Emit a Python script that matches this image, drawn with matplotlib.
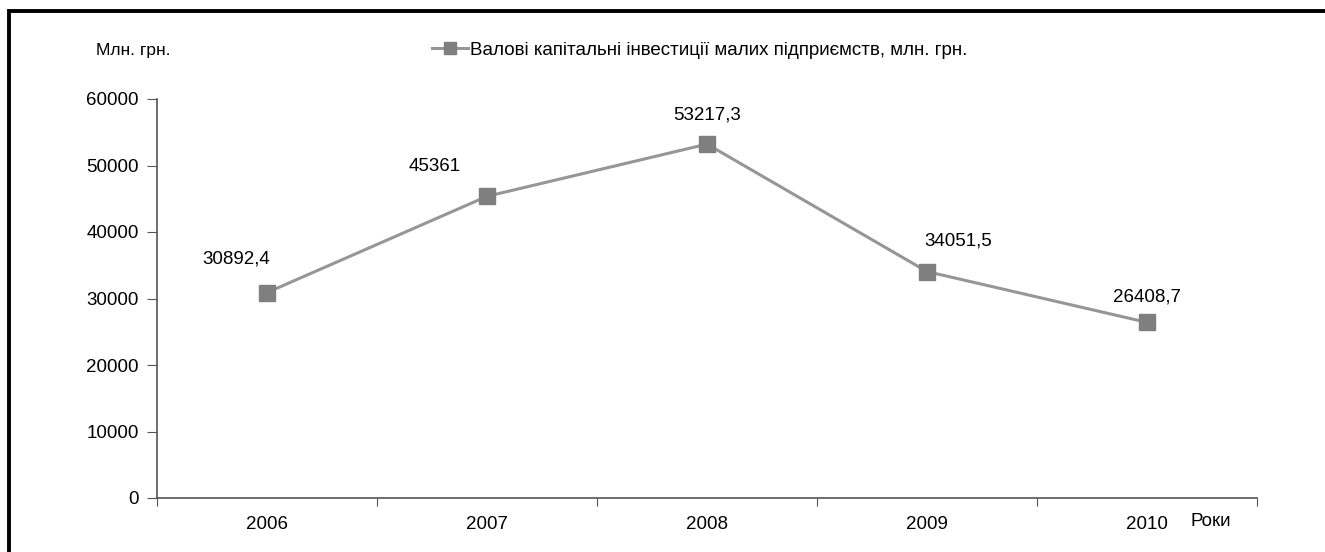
import matplotlib.pyplot as plt
from matplotlib.patches import Rectangle

plt.rcParams['font.family'] = ['Liberation Sans', 'DejaVu Sans']

years = ['2006', '2007', '2008', '2009', '2010']
invest = [30892.4, 45361, 53217.3, 34051.5, 26408.7]
labels = ['30892,4', '45361', '53217,3', '34051,5', '26408,7']
# label offsets in pixels (dx, dy)
offs = [(-31, 34), (-52, 30), (0, 29), (31, 31), (0, 25)]

fig = plt.figure(figsize=(13.25, 5.52), dpi=100)
ax = fig.add_axes([157/1325, 1 - 498/552, 1100/1325, 399/552])

x = [i + 0.5 for i in range(len(years))]
line, = ax.plot(x, invest, color='#969696', lw=2.2, marker='s', ms=11,
                mfc='#7f7f7f', mec='#7f7f7f',
                label='Валові капітальні інвестиції малих підприємств, млн. грн.')
for xi, v, lab, (dx, dy) in zip(x, invest, labels, offs):
    ax.annotate(lab, (xi, v), xytext=(dx, dy), textcoords='offset pixels',
                ha='center', va='center', fontsize=13.5)

ax.set_xlim(0, 5)
ax.set_ylim(0, 60000)
ax.set_yticks(range(0, 60001, 10000))
ax.set_xticks(range(6))
ax.set_xticklabels([])
ax.set_xticks(x, minor=True)
ax.set_xticklabels(years, minor=True)
ax.tick_params(axis='x', which='minor', length=0, pad=13, labelsize=13.5)
ax.tick_params(axis='x', which='major', length=6, color='#555555')
ax.tick_params(axis='y', length=7, color='#555555', labelsize=13.5, pad=6)
for s in ['top', 'right']:
    ax.spines[s].set_visible(False)
for s in ['left', 'bottom']:
    ax.spines[s].set_color('#555555')
    ax.spines[s].set_linewidth(1.2)

fig.text(96/1325, 1 - 50/552, 'Млн. грн.', fontsize=12.5, va='center')
fig.text(1190/1325, 1 - 522/552, 'Роки', fontsize=13.5, va='center')
leg = fig.legend(handles=[line], loc='center left',
                 bbox_to_anchor=(432/1325, 1 - 50/552),
                 frameon=False, fontsize=13.5, handlelength=1.9,
                 handletextpad=0.15, borderaxespad=0, borderpad=0,
                 markerscale=0.8)

fig.patches.append(Rectangle((9/1325, -0.1), 1.1, 1 - 11/552 + 0.1,
                             transform=fig.transFigure, fill=False,
                             ec='black', lw=2.8))

fig.savefig('out.png', dpi=100)
